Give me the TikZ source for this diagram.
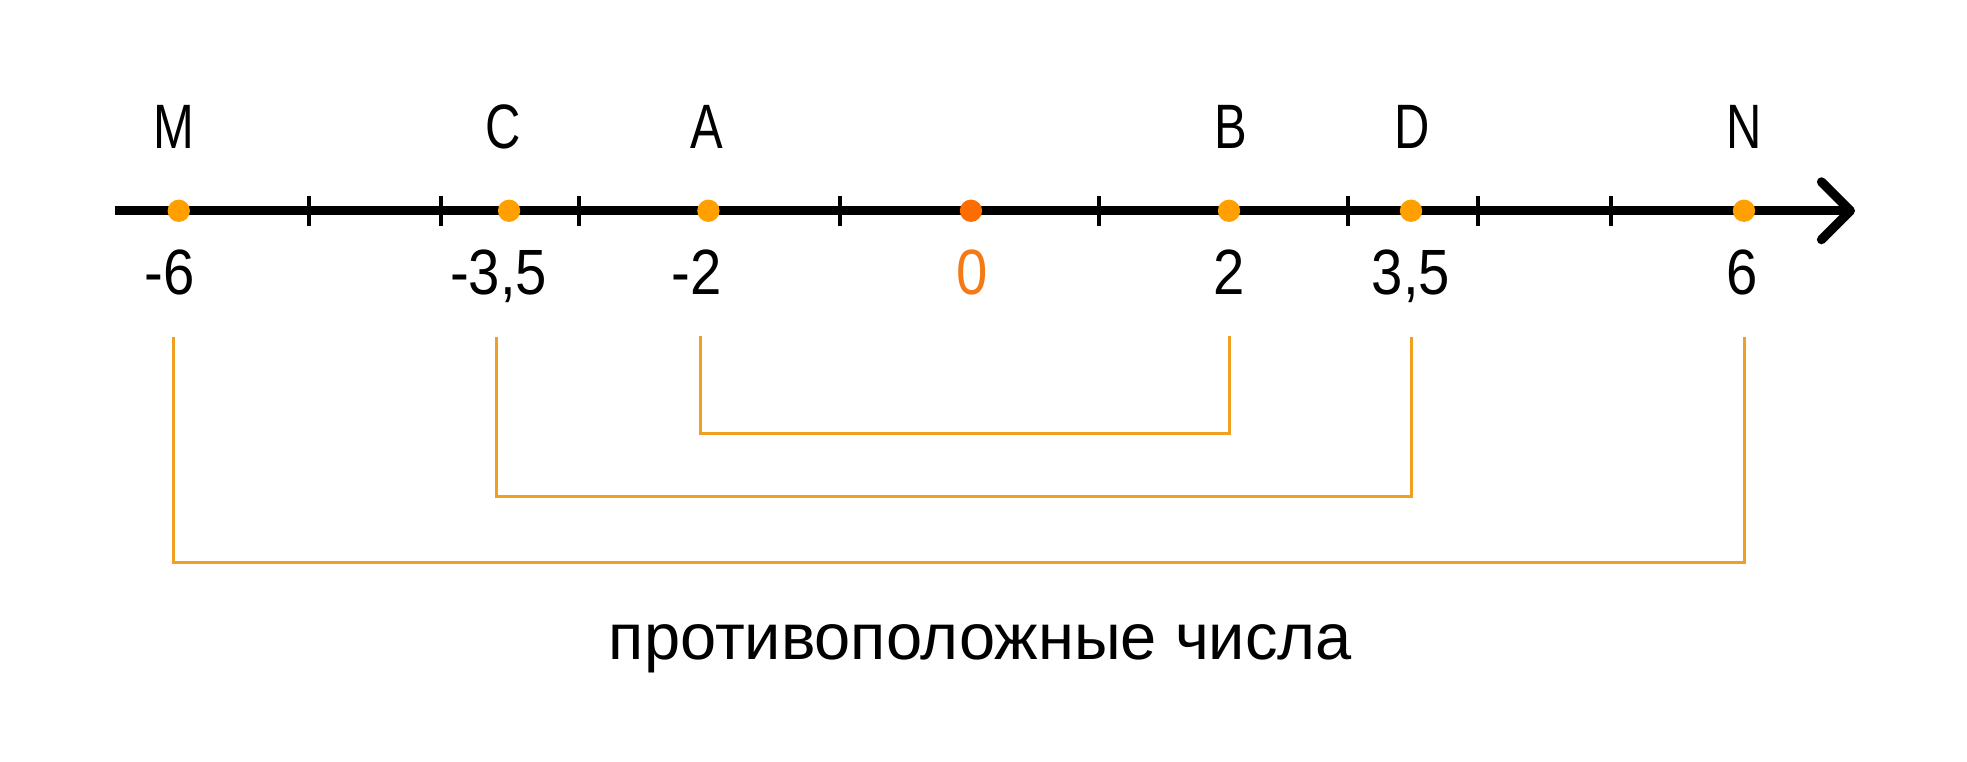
\documentclass[tikz,border=0pt]{standalone}
\usepackage{fontspec}
\setmainfont{Liberation Sans}
\newfontfamily\letfont[FakeStretch=0.78]{Liberation Sans}
\newfontfamily\numfont[FakeStretch=0.88]{Liberation Sans}
\definecolor{dotcol}{HTML}{FFA000}
\definecolor{zerocol}{HTML}{FF6D00}
\definecolor{zerotxt}{HTML}{F57A14}
\definecolor{brcol}{HTML}{F0A020}
\tikzset{
  axisline/.style={line width=3.7pt, black},
  chevron/.style={line width=3.7pt, black, line cap=round, line join=round},
  tickmark/.style={line width=1.6pt, black},
  ptdot/.style={circle, fill=dotcol, inner sep=0pt, minimum size=8.9pt},
  zerodot/.style={circle, fill=zerocol, inner sep=0pt, minimum size=8.9pt},
  letlabel/.style={anchor=base, inner sep=0pt, font=\letfont\fontsize{25pt}{30pt}\selectfont},
  numlabel/.style={anchor=base, inner sep=0pt, font=\numfont\fontsize{25.5pt}{30pt}\selectfont},
  bracket/.style={line width=1.35pt, brcol},
  caption/.style={anchor=base, inner sep=0pt, font=\fontsize{25.9pt}{30pt}\selectfont}
}
\begin{document}
\begin{tikzpicture}[x=0.5pt,y=-0.5pt]
\useasboundingbox (0,0) rectangle (1568,607);
% axis
\coordinate (axL) at (92,168);
\coordinate (axR) at (1475,168);
\coordinate (chT) at (1452,145);
\coordinate (chB) at (1452,191);
\draw[axisline] (axL) -- (axR);
\draw[chevron] (chT) -- (axR) -- (chB);
% ticks
\foreach \x in {246,351.3,461.3,669.4,875.8,1074.6,1178.2,1284}
  \draw[tickmark] (\x,156.5) -- (\x,180.5);
% dots
\node[ptdot] (dM) at (142.5,168) {};
\node[ptdot] (dC) at (405.8,168) {};
\node[ptdot] (dA) at (564.7,168) {};
\node[zerodot] (dO) at (774,168) {};
\node[ptdot] (dB) at (979.7,168) {};
\node[ptdot] (dD) at (1124.8,168) {};
\node[ptdot] (dN) at (1390.2,168) {};
% letters
\node[letlabel] (lM) at (139,118) {M};
\node[letlabel] (lC) at (401,118) {C};
\node[letlabel] (lA) at (563.5,118) {A};
\node[letlabel] (lB) at (981,118) {B};
\node[letlabel] (lD) at (1125.7,118) {D};
\node[letlabel] (lN) at (1390.2,118) {N};
% numbers
\node[numlabel] (nM) at (143,235) {\llap{-}6};
\node[numlabel] (nC) at (405,235) {\llap{-}3,5};
\node[numlabel] (nA) at (563,235) {\llap{-}2};
\node[numlabel, text=zerotxt] (nO) at (775,235) {0};
\node[numlabel] (nB) at (979.7,235) {2};
\node[numlabel] (nD) at (1124.8,235) {3,5};
\node[numlabel] (nN) at (1389,235) {6};
% brackets
\coordinate (b1a) at (558.2,267.5);
\coordinate (b1b) at (558.2,345.4);
\coordinate (b1c) at (980.1,345.4);
\coordinate (b1d) at (980.1,267.5);
\draw[bracket] (b1a) -- (b1b) -- (b1c) -- (b1d);
\coordinate (b2a) at (395.6,268.5);
\coordinate (b2b) at (395.6,395.9);
\coordinate (b2c) at (1125.2,395.9);
\coordinate (b2d) at (1125.2,268.5);
\draw[bracket] (b2a) -- (b2b) -- (b2c) -- (b2d);
\coordinate (b3a) at (138.5,268.5);
\coordinate (b3b) at (138.5,448.5);
\coordinate (b3c) at (1390.4,448.5);
\coordinate (b3d) at (1390.4,268.5);
\draw[bracket] (b3a) -- (b3b) -- (b3c) -- (b3d);
% caption
\node[caption] (cap) at (781.5,526) {противоположные числа};
\end{tikzpicture}
\end{document}
